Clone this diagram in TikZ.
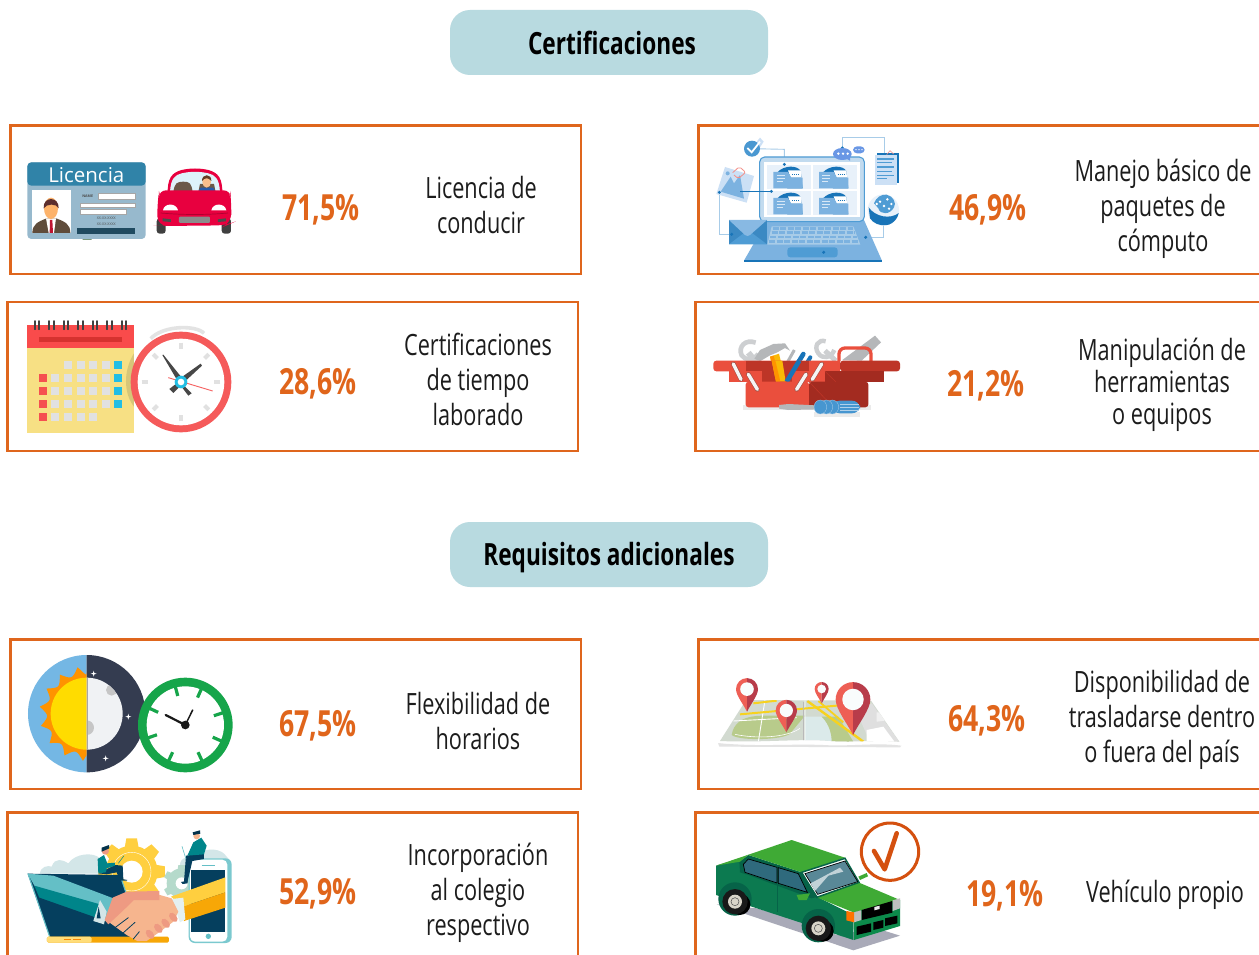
\documentclass[tikz,border=0pt]{standalone}
\usepackage{fontspec}
\setmainfont{Open Sans}
\newfontfamily\cond[FakeStretch=0.74]{Open Sans}
\definecolor{cardline}{HTML}{DF661D}
\definecolor{pillfill}{HTML}{B8DAE0}
\definecolor{numcol}{HTML}{E0651B}
\definecolor{textcol}{HTML}{1C1C1C}
\definecolor{lapl}{HTML}{7CB2E0}
\definecolor{lapd}{HTML}{1874B8}
\definecolor{lapm}{HTML}{4F9CD4}
\definecolor{lappale}{HTML}{CCE0F5}
\definecolor{lapline}{HTML}{A8CCE8}
\definecolor{boxl}{HTML}{EA4F3D}
\definecolor{boxm}{HTML}{BD3527}
\definecolor{boxd}{HTML}{A32B20}
\definecolor{steel}{HTML}{CDCFD1}
\definecolor{steeld}{HTML}{B5B7B9}
\definecolor{navy}{HTML}{053F5E}
\definecolor{tealb}{HTML}{64BFC6}
\definecolor{teald}{HTML}{00858A}
\definecolor{skin}{HTML}{F6B58E}
\definecolor{skind}{HTML}{EE9A82}
\definecolor{yel}{HTML}{FFCF3F}
\definecolor{amber}{HTML}{F7A707}
\definecolor{pinl}{HTML}{EE5F55}
\definecolor{pind}{HTML}{B83C4A}
\definecolor{road}{HTML}{F7D21E}
\definecolor{carlight}{HTML}{3FAA35}
\definecolor{cardark}{HTML}{0C7A50}
\definecolor{cardeep}{HTML}{066348}
\definecolor{carfront}{HTML}{0C8A4B}
\definecolor{carglass}{HTML}{2F6A7D}
\definecolor{carred}{HTML}{E8003F}
\definecolor{cellg}{HTML}{E1E1E1}
\definecolor{cellr}{HTML}{F55050}
\definecolor{cellb}{HTML}{22BEE4}
\definecolor{grnclk}{HTML}{16A54A}
\definecolor{cloudc}{HTML}{D3E6E8}
\definecolor{gearg}{HTML}{B5DACB}
\definecolor{checkc}{HTML}{D4500F}
\tikzset{
  zoomview/.style 2 args={shift={(#1,#2)},x=0.33333pt,y=-0.33333pt},
  cardbox/.style={draw=cardline,line width=2.6pt,fill=white},
  pillbox/.style={fill=pillfill,rounded corners=20pt,minimum width=318pt,minimum height=65pt,inner sep=0pt,
     font=\cond\bfseries\fontsize{30.6}{34}\selectfont,text=black},
  pct/.style={font=\cond\bfseries\fontsize{36}{40}\selectfont,text=numcol,inner sep=0pt},
  lab/.style={font=\cond\fontsize{29.3}{35}\selectfont,text=textcol,align=center,inner sep=0pt},
  labtight/.style={font=\cond\fontsize{29.3}{32}\selectfont,text=textcol,align=center,inner sep=0pt},
  tiny/.style={font=\fontsize{3.6}{4}\selectfont,inner sep=0pt},
}
\newcommand{\cardat}[5]{\draw[cardbox] (#2,#3) rectangle (#4,#5) coordinate (#1);}
\newcommand{\mappin}[3]{%
  \fill[pinl] (#1,#2) .. controls ({#1-0.35*#3},{#2-0.7*#3}) and ({#1-#3},{#2-1.5*#3}) .. ({#1-#3},{#2-2.05*#3}) arc (180:270:#3) -- cycle;
  \fill[pind] (#1,#2) .. controls ({#1+0.35*#3},{#2-0.7*#3}) and ({#1+#3},{#2-1.5*#3}) .. ({#1+#3},{#2-2.05*#3}) arc (0:-90:#3) -- cycle;
  \fill[white!92!pillfill] (#1,{#2-2.05*#3}) circle ({0.62*#3});
}
\newcommand{\folderat}[2]{%
  \begin{scope}[shift={(#1,#2)}]
    \fill[lapd] (30,22) .. controls (50,0) and (90,0) .. (100,18) -- (106,70) -- (60,70) -- cycle;
    \fill[white] (62,16) -- (100,16) -- (102,38) -- (70,38) -- cycle;
    \draw[lapd,line width=.8pt,dash pattern=on 1pt off 1pt] (74,27) -- (96,27);
    \fill[lapl] (18,21) -- (62,21) -- (72,38) -- (106,38) -- (106,70) -- (18,70) -- cycle;
    \draw[white!70!lapl,line width=.8pt] (28,32) -- (52,32) (28,40) -- (52,40) (28,48) -- (46,48);
  \end{scope}}
\newcommand{\clipbar}[4]{%
  \draw[line cap=round,line width=4.6pt,boxm!60!gray] (#1,#2) -- (#3,#4);
  \draw[line cap=round,line width=3.4pt,white!92!gray] (#1,#2) -- (#3,#4);}
\begin{document}
\begin{tikzpicture}[x=1pt,y=-1pt]
\useasboundingbox (0,0) rectangle (1259,955);
\clip (0,0) rectangle (1259,955);
\fill[white] (0,0) rectangle (1259,955);
% pills
\node[pillbox] (pillA) at (609,42.5) {\hspace*{6pt}Certificaciones};
\node[pillbox] (pillB) at (609,554.5) {\raisebox{-11pt}[0pt][0pt]{Requisitos adicionales}};
% cards
\cardat{c1}{10.5}{125.5}{581}{274}
\cardat{c2}{7.5}{302}{578}{451}
\cardat{c3}{698.5}{125.5}{1275}{274}
\cardat{c4}{695.5}{302}{1275}{451}
\cardat{c5}{10.5}{639.5}{581}{789}
\cardat{c6}{7.5}{812.5}{578}{975}
\cardat{c7}{698.5}{639.5}{1275}{789}
\cardat{c8}{695.5}{812.5}{1275}{975}
% percentages
\node[pct] (p1) at (321,210) {71,5\%};
\node[pct] (p2) at (318,384) {28,6\%};
\node[pct] (p3) at (988,210) {46,9\%};
\node[pct] (p4) at (986,386) {21,2\%};
\node[pct] (p5) at (318,726) {67,5\%};
\node[pct] (p6) at (987,721) {64,3\%};
\node[pct] (p7) at (318,894) {52,9\%};
\node[pct] (p8) at (1005,896) {19,1\%};
% labels
\node[lab] (l1) at (481,205.5) {Licencia de\\conducir};
\node[lab] (l2) at (478,379) {Certificaciones\\de tiempo\\laborado};
\node[lab] (l3) at (1163,209) {Manejo básico de\\paquetes de\\cómputo};
\node[labtight] (l4) at (1162,385) {Manipulación de\\herramientas\\o equipos};
\node[lab] (l5) at (478,721.5) {Flexibilidad de\\horarios};
\node[lab] (l6) at (1162,720) {Disponibilidad de\\trasladarse dentro\\o fuera del país};
\node[lab] (l7) at (478,893) {Incorporación\\al colegio\\respectivo};
\node[lab] (l8) at (1165,895) {Vehículo propio};

% ---------- licence + red car, calendar + clock
\begin{scope}[zoomview={0}{120}]
  \fill[fill=gray!70!green!60!black,rounded corners=1pt] (246,345) rectangle (277,359);
  \fill[fill={rgb,255:red,151;green,185;blue,205},rounded corners=4pt] (82,127) rectangle (437,357);
  \fill[fill={rgb,255:red,48;green,131;blue,168},rounded corners=4pt] (82,197) -- (82,127) -- (437,127) -- (437,197) -- cycle;
  \node[text=white,font=\fontsize{20.5}{22}\selectfont,inner sep=0pt] (liclabel) at (259,166) {Licencia};
  \fill[white] (96,210) rectangle (213,339);
  \fill[fill={rgb,255:red,95;green,76;blue,59}] (97,339) .. controls (97,312) and (115,305) .. (140,295) -- (168,295) .. controls (195,305) and (211,312) .. (211,339) -- cycle;
  \fill[white] (138,295) -- (168,295) -- (162,339) -- (146,339) -- cycle;
  \fill[fill={rgb,255:red,190;green,20;blue,50}] (150,300) -- (157,300) -- (159,339) -- (149,339) -- cycle;
  \fill[fill={rgb,255:red,253;green,179;blue,107}] (153,265) ellipse (21 and 32);
  \fill[fill={rgb,255:red,92;green,46;blue,46}] (131,265) .. controls (128,228) and (178,228) .. (176,265) .. controls (170,250) and (140,250) .. (131,265) -- cycle;
  \foreach \a/\b/\c/\d in {294/220/406/239,241/249/406/263,241/268/380/283}
    \draw[fill=white,draw=gray!70,line width=.6pt] (\a,\b) rectangle (\c,\d);
  \node[tiny,text=black!70] (licname) at (263,229) {\textbf{NAME}};
  \node[tiny,text=black!70] (licx1) at (319,295) {XX-XX-XXXX};
  \node[tiny,text=black!70] (licx2) at (319,312) {XX-XX-XXXX};
  \fill[fill={rgb,255:red,31;green,74;blue,96}] (231,324) rectangle (405,342);
  % car
  \fill[black!75,rounded corners=3pt] (470,295) rectangle (497,341);
  \fill[black!75,rounded corners=3pt] (665,295) rectangle (693,341);
  \fill[carred] (503,222) .. controls (502,175) and (515,158) .. (545,150) .. controls (570,144) and (600,144) .. (625,150) .. controls (655,158) and (668,175) .. (667,222) -- cycle;
  \fill[fill={rgb,255:red,222;green,242;blue,250}] (510,217) .. controls (512,175) and (525,165) .. (545,160) .. controls (570,154) and (600,154) .. (625,160) .. controls (645,165) and (658,175) .. (660,217) -- cycle;
  \fill[fill={rgb,255:red,107;green,88;blue,72}] (520,216) .. controls (524,190) and (530,185) .. (550,185) .. controls (570,185) and (574,190) .. (578,216) -- cycle;
  \fill[fill={rgb,255:red,107;green,88;blue,72}] (595,216) -- (600,192) -- (642,192) -- (647,216) -- cycle;
  \fill[fill={rgb,255:red,40;green,90;blue,170}] (594,216) -- (602,203) -- (640,203) -- (646,216) -- cycle;
  \fill[fill={rgb,255:red,250;green,190;blue,140}] (620,186) ellipse (13 and 17);
  \fill[fill={rgb,255:red,100;green,60;blue,35}] (606,183) .. controls (605,160) and (636,160) .. (634,183) .. controls (625,172) and (615,172) .. (606,183) -- cycle;
  \fill[carred,rounded corners=7pt] (477,211) rectangle (692,234);
  \fill[carred,rounded corners=10pt] (472,318) -- (472,255) .. controls (475,230) and (490,222) .. (510,222) -- (660,222) .. controls (680,222) and (692,230) .. (694,255) -- (694,310) -- (680,316) -- (490,318) -- cycle;
  \fill[white] (489,271) .. controls (492,248) and (530,248) .. (534,271) -- cycle;
  \fill[white] (634,271) .. controls (638,248) and (675,248) .. (679,271) -- cycle;
  \draw[black!25!carred,line width=.7pt] (482,279) .. controls (550,285) and (620,285) .. (684,279);
  \fill[gray!90,rounded corners=1pt] (537,290) rectangle (630,309);
  \fill[black!70] (488,295) -- (513,298) -- (513,306) -- (488,304) -- cycle;
  \fill[black!70] (654,298) -- (678,295) -- (678,304) -- (654,306) -- cycle;
  % calendar
  \fill[fill={rgb,255:red,247;green,224;blue,132}] (81,684) rectangle (402,939);
  \fill[fill={rgb,255:red,249;green,75;blue,75}] (81,615) rectangle (402,684);
  \fill[fill={rgb,255:red,214;green,50;blue,47}] (117,651) rectangle (366,666);
  \foreach \i in {0,...,6}{
    \draw[black!75,line width=1.7pt,line cap=round] ({104+43.5*\i},603) -- ({104+43.5*\i},628);
    \draw[black!75,line width=1.7pt,line cap=round] ({118+43.5*\i},603) -- ({118+43.5*\i},628);
  }
  \foreach \xx in {191,231,267,305} \fill[cellg] (\xx,723) rectangle ++(25,24);
  \fill[cellb] (342,723) rectangle ++(24,24);
  \foreach \yy in {762,801,840}{
    \fill[cellr] (117,\yy) rectangle ++(24,24);
    \foreach \xx in {153,191,231,267,305} \fill[cellg] (\xx,\yy) rectangle ++(25,24);
    \fill[cellb] (342,\yy) rectangle ++(24,24);
  }
  \fill[cellr] (117,879) rectangle ++(24,24);
  \foreach \xx in {153,191,231,267} \fill[cellg] (\xx,879) rectangle ++(25,24);
  \fill[fill={rgb,255:red,215;green,198;blue,120}] (402,700) .. controls (370,750) and (370,820) .. (402,860) -- cycle;
  \draw[gray!22,line width=3.6pt] (452,656) .. controls (490,615) and (590,615) .. (612,640);
  \fill[fill={rgb,255:red,245;green,90;blue,90}] (543,786) circle (151);
  \fill[white] (543,786) circle (130);
  \foreach \a in {0,45,...,315}
    \draw[cellg,line width=4pt] ({543+118*cos(\a)},{786-118*sin(\a)}) -- ({543+100*cos(\a)},{786-100*sin(\a)});
  \fill[black!72] (487,705) -- (490,704) -- (551,780) -- (537,790) -- cycle;
  \fill[black!72] (602,731) -- (606,737) -- (553,786) -- (543,773) -- cycle;
  \fill[black!72] (530,790) -- (537,802) -- (520,819) -- (508,807) -- cycle;
  \fill[black!72] (552,797) -- (575,820) -- (565,827) -- (546,802) -- cycle;
  \draw[cellr!90,line width=.9pt] (505,773) -- (638,813);
  \fill[cellb] (543,786) circle (19);
  \fill[white] (543,786) circle (10);
\end{scope}

% ---------- laptop
\begin{scope}[zoomview={690}{120}]
  \draw[lapline,line width=.9pt] (186,86) -- (283,88) -- (283,133);
  \draw[lapline,line width=.9pt] (457,84) -- (457,52) -- (584,52) -- (584,100);
  \draw[lapline,line width=.9pt] (88,217) -- (88,343) -- (125,343);
  \draw[lapline,line width=.9pt] (527,352) -- (581,352) -- (581,310);
  \fill[lapl] (232,300) -- (522,300) -- (575,420) -- (163,420) -- cycle;
  \fill[lapd] (163,420) -- (575,420) -- (575,427) -- (163,427) -- cycle;
  \draw[fill=lapline!70!white,draw=lapm,line width=1.1pt,rounded corners=5pt] (209,305) -- (209,111) -- (523,111) -- (523,305) -- cycle;
  \fill[white] (222,125) rectangle (510,290);
  \foreach \px/\py in {232/135,369/135,232/213,369/213}{
    \fill[lappale!45!white] (\px,\py) rectangle ++(131,72);
    \folderat{\px}{\py}
  }
  \fill[lapline] (245,319) -- (490,319) -- (511,374) -- (232,374) -- cycle;
  \foreach \ky/\xa/\xb in {325/248/488,338/245/494,351/241/500,364/237/506}
    \draw[lapl,line width=2.6pt,dash pattern=on 6pt off 1.5pt] (\xa,\ky) -- (\xb,\ky);
  \fill[lapm,rounded corners=3pt] (292,382) rectangle (443,412);
  \fill[lapd] (401,397) circle (5);
  \fill[fill=lapd!85!white] (117,300) rectangle (231,373);
  \fill[fill=lapm] (117,373) -- (174,330) -- (231,373) -- cycle;
  \fill[fill=lapl!85!lappale] (117,300) -- (231,300) -- (180,345) .. controls (175,349) and (170,349) .. (165,345) -- cycle;
  \fill[lappale] (105,141) -- (192,168) -- (170,248) -- (79,222) -- cycle;
  \fill[lapl] (92,215) -- (122,170) -- (132,190) -- (150,165) -- (162,236) -- cycle;
  \fill[lapl] (113,160) circle (6);
  \draw[pinl!70!white,line width=.8pt,rounded corners=2pt] (128,158) -- (148,140) -- (167,157) -- (145,176) -- (132,165);
  \draw[lapd,line width=.9pt] (150,214) -- (244,214);
  \fill[lapd] (244,214) circle (5);
  \fill[lapd] (88,217) circle (5);
  \fill[lapd] (283,133) circle (5);
  \fill[lapd] (457,84) circle (5);
  \fill[lapd] (125,343) circle (5);
  \fill[lapd] (527,352) circle (5);
  \fill[lappale] (196,70) -- (210,53) -- (221,65) -- (205,90) -- cycle;
  \fill[fill=lapm!90!lapd] (186,86) circle (24);
  \draw[white,line width=1.8pt] (172,84) -- (185,97) -- (210,65);
  \fill[fill=lapl!85!blue] (457,102) ellipse (28 and 18);
  \fill[fill=lapl!85!blue] (462,112) -- (480,122) -- (480,108) -- cycle;
  \foreach \dx in {445,459,473} \fill[white] (\dx,101) circle (4);
  \fill[fill=lapl!85!blue,rounded corners=4pt] (489,79) rectangle (524,100);
  \foreach \dx in {498,507,516} \fill[white] (\dx,89) circle (2.2);
  \fill[lapd] (560,98) rectangle (627,190);
  \fill[lappale] (555,105) rectangle (620,195);
  \foreach \ly/\lx in {117/611,128/607,141/611,154/605,166/611,176/590}
    \draw[lapm,line width=1.5pt] (561,\ly) -- (\lx,\ly);
  \draw[pinl!70!white,line width=.6pt] (590,104) -- (600,92) -- (611,102);
  % globe
  \fill[lappale!45!white] (580,270) circle (47);
  \begin{scope}
    \clip (580,270) circle (47);
    \fill[lapm] (552,250) .. controls (558,232) and (575,222) .. (590,224) .. controls (610,228) and (620,250) .. (612,262) .. controls (600,285) and (570,285) .. (565,265) -- cycle;
    \foreach \sx/\sy in {570/245,592/238,604/252,582/258,560/252,597/266}
      \fill[white] (\sx,\sy) circle (4);
    \fill[lapd] (536,262) .. controls (555,290) and (600,300) .. (628,278) -- (628,290) .. controls (612,322) and (560,325) .. (540,295) -- cycle;
  \end{scope}
\end{scope}

% ---------- toolbox
\begin{scope}[zoomview={705}{330}]
  % tools behind the trays
  \draw[steel,line width=6pt] (130,68) -- (178,128);
  \draw[steel,line width=4.6pt] (152,38) .. controls (122,26) and (98,50) .. (110,76) .. controls (120,92) and (145,92) .. (160,72);
  \fill[steeld] (148,86) -- (165,60) -- (205,42) -- (240,40) -- (255,62) -- (240,54) -- (215,68) -- (195,76) -- (165,94) -- cycle;
  \draw[steeld,line width=3pt] (232,124) -- (268,60);
  \fill[amber!80!yellow] (195,80) -- (222,71) -- (242,155) -- (213,155) -- cycle;
  \fill[orange!85!yellow] (195,80) -- (206,77) -- (226,155) -- (213,155) -- cycle;
  \draw[lapd,line width=4.6pt,line cap=round] (245,155) -- (295,72);
  \draw[lapd,line width=4pt,line cap=round] (290,125) -- (316,82);
  \draw[steel,line width=5pt] (360,62) -- (392,92);
  \draw[steel,line width=4.4pt] (362,34) .. controls (340,26) and (325,50) .. (340,70) .. controls (352,88) and (378,85) .. (388,60);
  \fill[steeld] (412,90) -- (510,17) -- (528,37) -- (470,92) -- cycle;
  \draw[boxl,line width=3.3pt,rounded corners=6pt] (402,94) -- (402,54) -- (498,54) -- (498,94);
  % trays
  \fill[boxl,rounded corners=3pt] (25,124) -- (25,92) -- (405,92) -- (405,124) -- cycle;
  \fill[boxm] (122,92) rectangle (312,124);
  \fill[boxl] (312,92) rectangle (405,124);
  \fill[boxm,rounded corners=3pt] (405,124) -- (405,92) -- (585,92) -- (585,124) -- cycle;
  \fill[boxl] (73,124) rectangle (360,155);
  \fill[boxm] (170,124) rectangle (262,155);
  \fill[boxd] (360,124) rectangle (537,155);
  % hammer handle and blue pen pass in front of the back trays
  \fill[amber!80!yellow] (200,92) -- (232,92) -- (242,155) -- (213,155) -- cycle;
  \fill[orange!85!yellow] (200,92) -- (211,92) -- (226,155) -- (213,155) -- cycle;
  \draw[lapd,line width=4.6pt] (245,155) -- (283,92);
  \fill[gray!16] (113,226) rectangle (497,240);
  \fill[boxl,rounded corners=3pt] (122,155) -- (122,232) -- (312,232) -- (312,155) -- cycle;
  \fill[boxd,rounded corners=3pt] (312,155) -- (312,232) -- (490,232) -- (490,155) -- cycle;
  \draw[boxm,line width=.6pt] (312,155) -- (385,232) (360,124) -- (392,155);
  \clipbar{85}{102}{108}{148}
  \clipbar{130}{133}{157}{178}
  \clipbar{350}{102}{322}{148}
  \clipbar{303}{133}{275}{178}
  % screwdriver
  \fill[gray!16] (327,246) rectangle (465,262);
  \fill[steeld] (222,225) -- (250,222) -- (350,227) -- (350,238) -- (250,240) -- (222,236) -- cycle;
  \fill[lapm!85!lapd,rounded corners=8pt] (380,212) -- (465,212) -- (465,250) -- (380,250) -- cycle;
  \foreach \ex in {382,364,346} {
    \draw[fill=lapm!85!lapd,draw=lapline,line width=.3pt] (\ex,231) ellipse (19 and 21);
  }
  \draw[lapline!90!white,line width=.4pt] (405,222) -- (462,222) (405,232) -- (462,232) (405,242) -- (462,242);
\end{scope}

% ---------- sun/moon, green clock, handshake
\begin{scope}[zoomview={0}{635}]
  \fill[fill={rgb,255:red,116;green,183;blue,228}] (260,60) .. controls (163,60) and (84,139) .. (84,236) .. controls (84,333) and (163,412) .. (260,412) -- cycle;
  \fill[fill={rgb,255:red,52;green,60;blue,80}] (260,60) .. controls (357,60) and (436,139) .. (436,236) .. controls (436,333) and (357,412) .. (260,412) -- cycle;
  \fill[orange!85!yellow] (260,112)
    \foreach \a in {101,124.5,148,171.5,195,218.5,242,265.5}{
      .. controls ({260+112*cos(\a-11.75)},{236-112*sin(\a-11.75)}) .. ({260+142*cos(\a)},{236-142*sin(\a)})
    } -- (260,360) -- cycle;
  \fill[fill={rgb,255:red,255;green,220;blue,0}] (260,128) .. controls (200,128) and (152,176) .. (152,236) .. controls (152,296) and (200,344) .. (260,344) -- cycle;
  \fill[fill={rgb,255:red,240;green,242;blue,244}] (260,128) .. controls (320,128) and (368,176) .. (368,236) .. controls (368,296) and (320,344) .. (260,344) -- cycle;
  \begin{scope}
    \clip (260,128) .. controls (320,128) and (368,176) .. (368,236) .. controls (368,296) and (320,344) .. (260,344) -- cycle;
    \fill[gray!45] (335,165) circle (17);
    \fill[gray!45] (260,278) circle (22);
  \end{scope}
  \draw[gray!70,line width=.3pt] (260,128) -- (260,344);
  \foreach \sx/\sy in {281/116,385/245,317/370}{
    \fill[white] (\sx,{\sy-9}) -- ({\sx+2},{\sy-2}) -- ({\sx+9},\sy) -- ({\sx+2},{\sy+2}) -- (\sx,{\sy+9}) -- ({\sx-2},{\sy+2}) -- ({\sx-9},\sy) -- ({\sx-2},{\sy-2}) -- cycle;
  }
  \fill[grnclk] (556,270) circle (142);
  \fill[white] (556,270) circle (116);
  \foreach \a in {104.6,66,18,-24,-65,-115,-161,155}
    \draw[grnclk,line width=3.2pt] ({556+118*cos(\a)},{270-118*sin(\a)}) -- ({556+90*cos(\a)},{270-90*sin(\a)});
  \draw[black!90,line width=2.2pt,line cap=round] (556,270) -- (497,240);
  \draw[black!90,line width=1.5pt,line cap=round] (556,270) -- (578,225);
  \fill[black!90] (556,270) circle (13);
  % clouds
  \fill[cloudc] (120,716) .. controls (120,695) and (145,690) .. (155,695) .. controls (165,665) and (190,675) .. (205,685) .. controls (225,655) and (280,650) .. (300,670) -- (310,716) -- cycle;
  \fill[cloudc] (540,690) .. controls (540,665) and (570,665) .. (590,660) .. controls (620,635) and (665,640) .. (680,665) -- (693,680) -- (570,700) -- cycle;
  % gears
  \foreach \a in {0,45,...,315}
    \fill[yel,rotate around={\a:(395,710)}] (379,610) -- (411,610) -- (417,645) -- (373,645) -- cycle;
  \fill[yel] (395,710) circle (78);
  \fill[white] (395,710) circle (33);
  \draw[white,line width=.4pt] (395,710) circle (58);
  \foreach \a in {0,60,...,300}
    \fill[gearg,rotate around={\a:(545,745)}] (535,690) -- (555,690) -- (558,712) -- (532,712) -- cycle;
  \fill[gearg] (545,745) circle (45);
  \fill[white] (545,745) circle (18);
  % laptop
  \fill[navy] (83,716) -- (360,720) -- (422,908) -- (150,908) -- cycle;
  \fill[tealb] (83,716) -- (160,722) -- (340,790) -- (340,862) -- (290,850) -- (105,755) -- cycle;
  \fill[teald] (103,752) -- (300,808) -- (312,862) -- (270,855) -- (118,788) -- cycle;
  \fill[navy] (118,788) -- (280,845) -- (310,862) -- (150,908) -- cycle;
  \draw[tealb,line width=1.1pt] (84,716) -- (150,908) (360,720) -- (381,782);
  \fill[amber,rounded corners=1.5pt] (141,905) rectangle (507,923);
  \fill[yel!70!white,rounded corners=1.5pt] (141,905) rectangle (275,923);
  \draw[amber!80!red,line width=.9pt] (191,913) -- (213,913) (220,913) -- (242,913);
  % phone
  \fill[tealb!85!white,rounded corners=6pt] (566,670) rectangle (695,924);
  \fill[white,rounded corners=5pt] (570,674) rectangle (682,920);
  \fill[navy] (573,705) rectangle (676,890);
  \draw[tealb,line width=.7pt] (605,690) -- (645,690);
  \fill[tealb] (625,904) circle (8);
  % right sleeve
  \fill[yel] (513,785) -- (676,727) -- (676,772) -- (548,815) -- cycle;
  \fill[amber] (548,815) -- (676,772) -- (676,818) -- (552,858) -- cycle;
  \fill[cloudc!60!white] (515,792) -- (550,788) -- (556,853) -- (540,862) -- cycle;
  % left cuff
  \fill[cloudc] (300,795) -- (280,858) -- (312,868) -- (320,830) -- cycle;
  \fill[navy] (296,815) -- (302,850) -- (290,850) -- cycle;
  % hands
  \fill[skin] (338,790) -- (410,770) -- (480,780) -- (515,790) -- (535,830) -- (520,860) -- (480,890) -- (440,918) -- (412,918) -- (380,900) -- (325,860) -- cycle;
  \fill[skind] (338,788) -- (380,770) -- (478,768) -- (478,795) -- (402,795) -- (368,828) -- (325,868) -- (314,855) -- cycle;
  \draw[navy,line width=.8pt,line cap=round] (345,878) -- (385,848) (368,895) -- (405,862) (400,912) -- (418,890);
  \foreach \hx/\hy in {520/847,497/865,475/880,450/898}
    \fill[skind,rotate around={-50:(\hx,\hy)}] (\hx,\hy) ellipse (16 and 10);
  % person 1
  \fill[navy] (295,715) -- (345,690) -- (368,692) -- (370,732) -- (358,732) -- (350,712) -- (320,718) -- cycle;
  \fill[teald] (293,672) -- (312,660) -- (322,685) -- (345,683) -- (345,692) -- (320,700) -- (318,712) -- (295,715) -- cycle;
  \fill[skind] (316,648) circle (11);
  \fill[navy!80!black] (305,638) -- (327,630) -- (328,640) -- (305,650) -- cycle;
  \draw[teald,line width=.5pt] (355,685) -- (372,662);
  \fill[navy] (356,730) -- (382,735) -- (380,737) -- (356,737) -- cycle;
  % person 2
  \fill[navy] (558,662) -- (612,655) -- (612,672) -- (577,678) -- (562,742) -- (552,740) -- cycle;
  \fill[teald] (580,622) -- (604,608) -- (620,632) -- (612,658) -- (562,662) -- cycle;
  \fill[skin] (590,603) circle (10);
  \fill[navy!80!black] (578,592) -- (600,586) -- (601,596) -- (580,600) -- cycle;
  \draw[tealb,line width=.6pt] (546,634) -- (558,672);
  \fill[navy] (543,741) -- (563,737) -- (563,745) -- (548,747) -- cycle;
\end{scope}

% ---------- map and green car
\begin{scope}[zoomview={690}{635}]
  \fill[gray!22] (84,324) .. controls (200,336) and (300,326) .. (400,330) .. controls (480,335) and (560,322) .. (634,332) -- (630,337) -- (88,335) -- cycle;
  \fill[white] (82,322) -- (165,192) -- (545,194) -- (636,324) .. controls (560,316) and (480,330) .. (400,322) .. controls (300,318) and (200,329) .. (82,324) -- cycle;
  \begin{scope}
    \clip (90,318) -- (168,195) -- (543,197) -- (628,320) .. controls (560,313) and (480,325) .. (400,316) .. controls (300,313) and (200,323) .. (90,318) -- cycle;
    \fill[fill={rgb,255:red,210;green,218;blue,208}] (85,190) rectangle (640,330);
    \fill[fill={rgb,255:red,184;green,203;blue,139}] (125,300) .. controls (130,270) and (150,242) .. (220,242) -- (345,242) -- (305,290) .. controls (300,315) and (150,320) .. (125,300) -- cycle;
    \fill[fill={rgb,255:red,219;green,234;blue,234}] (345,245) -- (395,245) .. controls (420,270) and (425,300) .. (425,320) -- (345,320) -- cycle;
    \fill[fill={rgb,255:red,184;green,203;blue,139}] (395,245) -- (445,245) -- (490,320) -- (425,320) .. controls (425,300) and (420,270) .. (395,245) -- cycle;
    \fill[gray!25] (490,210) -- (545,205) -- (628,320) -- (540,320) -- cycle;
    \fill[gray!12] (560,232) -- (590,232) -- (600,255) -- (560,260) -- cycle;
    \fill[white] (530,285) -- (580,275) -- (615,322) -- (530,322) -- cycle;
    \draw[white,line width=.9pt] (225,195) -- (205,320) (345,195) -- (345,320) (130,258) -- (320,248);
    \draw[white,line width=.6pt] (135,298) .. controls (200,312) and (290,308) .. (330,280);
    \draw[road,line width=2pt] (190,205) -- (260,197);
    \draw[road,line width=2pt] (150,238) -- (540,203);
    \draw[road,line width=2.4pt] (352,198) -- (520,320);
    \draw[road,line width=1.8pt] (385,198) -- (460,262);
    \draw[gray!55,line width=.4pt] (340,200) -- (340,320);
  \end{scope}
  \mappin{171}{230}{33}
  \mappin{395}{205}{21}
  \mappin{289}{292}{32}
  \mappin{489}{300}{52}
  % green car
  \fill[fill={rgb,255:red,169;green,170;blue,184}] (80,808) -- (200,820) -- (340,860) -- (440,900) -- (560,880) -- (630,902) -- (490,946) -- cycle;
  \fill[cardark] (78,692) -- (150,670) -- (380,785) -- (490,840) -- (490,915) -- (360,872) -- (78,780) -- cycle;
  \fill[cardeep] (148,680) -- (175,660) -- (335,712) -- (383,785) -- (365,790) -- (175,720) -- (150,712) -- cycle;
  \fill[carlight] (78,692) -- (305,615) -- (465,668) -- (335,712) -- (175,660) -- (150,680) -- cycle;
  \fill[carlight] (380,787) -- (505,742) -- (630,795) -- (490,832) -- cycle;
  \draw[black,line width=.7pt,fill=carglass] (175,672) -- (261,697) -- (261,744) -- (165,712) -- (160,688) -- cycle;
  \draw[black,line width=.7pt,fill=carglass] (265,698) -- (325,716) -- (352,772) -- (265,745) -- cycle;
  \draw[cardeep,line width=1.5pt] (335,712) -- (465,670) -- (507,742) -- (380,787) -- cycle;
  \draw[black,line width=.7pt,fill=carglass!80!white] (345,716) -- (465,678) -- (503,740) -- (383,778) -- cycle;
  \fill[white!70!carglass] (362,745) -- (450,698) -- (460,710) -- (415,722) -- (375,768) -- cycle;
  \draw[cardeep,line width=.3pt] (262,745) -- (262,830);
  \fill[carlight] (320,780) -- (360,775) -- (350,795) -- (326,795) -- cycle;
  \fill[carlight] (505,725) -- (530,714) -- (534,724) -- (510,735) -- cycle;
  \fill[carfront] (490,832) -- (630,795) -- (630,873) -- (492,915) -- cycle;
  \fill[black] (515,825) -- (607,798) -- (607,833) -- (515,855) -- cycle;
  \fill[white!85!gray] (553,816) -- (569,812) -- (569,822) -- (553,826) -- cycle;
  \fill[gray!50] (492,832) -- (514,826) -- (514,855) -- (492,862) -- cycle;
  \fill[gray!50] (608,796) -- (630,790) -- (630,820) -- (608,828) -- cycle;
  \fill[orange!90!red] (469,828) -- (492,832) -- (492,862) -- (469,856) -- cycle;
  \fill[black] (500,875) -- (543,865) -- (543,890) -- (500,900) -- cycle;
  \fill[black] (550,862) -- (580,855) -- (580,878) -- (550,885) -- cycle;
  \fill[black] (585,850) -- (622,842) -- (622,865) -- (585,873) -- cycle;
  \foreach \wx/\wy in {135/800,385/880}{
    \fill[cardeep] (\wx,{\wy-8}) circle (50);
  }
  \foreach \wx/\wy in {135/800,385/880}{
    \fill[black] ({\wx+14},{\wy+8}) circle (32);
    \fill[black!90] (\wx,\wy) circle (38);
    \fill[fill={rgb,255:red,216;green,212;blue,200}] (\wx,\wy) circle (21);
    \draw[black!70,line width=.5pt] (\wx,\wy) circle (12);
  }
  \draw[fill=white,draw=checkc,line width=3pt] (600,650) circle (86);
  \draw[checkc,line width=4.6pt,line cap=round,line join=round] (552,648) -- (584,703) -- (620,595);
\end{scope}
\end{tikzpicture}
\end{document}
